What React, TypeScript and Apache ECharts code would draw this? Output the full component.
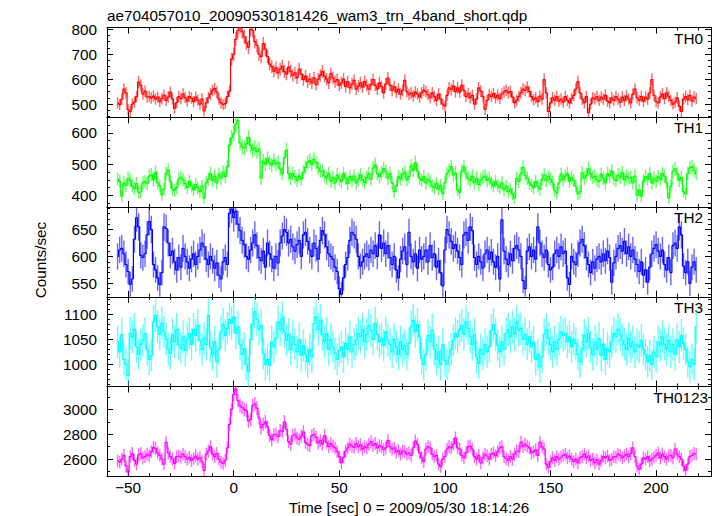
import React, { useEffect, useRef } from 'react';
import * as echarts from 'echarts';

// ---- data (1-s bins, bin centres start at T_START) ----
const T_START = -55;
const BIN_SEC = 1;

const TH0 = [
  505, 498, 520, 560, 545, 478, 470, 500, 508, 530,
  588, 575, 540, 552, 528, 530, 524, 532, 520, 528,
  510, 522, 535, 515, 528, 548, 520, 482, 506, 530,
  522, 540, 526, 512, 530, 524, 510, 528, 515, 500,
  520, 472, 505, 525, 540, 555, 562, 548, 520, 505,
  498, 502, 530, 552, 680, 700, 760, 795, 810, 790,
  770, 745, 728, 800, 795, 750, 735, 700, 690, 742,
  720, 690, 660, 650, 632, 645, 625, 640, 652, 630,
  620, 648, 632, 615, 625, 605, 640, 620, 598, 612,
  590, 600, 585, 605, 578, 600, 615, 630, 612, 600,
  585, 622, 605, 590, 598, 575, 585, 600, 570, 590,
  565, 580, 595, 560, 572, 585, 568, 590, 575, 560,
  578, 598, 575, 560, 585, 570, 545, 580, 604, 575,
  555, 570, 548, 560, 540, 555, 595, 550, 538, 545,
  532, 548, 540, 528, 545, 556, 550, 538, 525, 545,
  530, 515, 540, 520, 500, 492, 535, 565, 558, 572,
  550, 565, 548, 575, 555, 530, 542, 525, 535, 500,
  520, 565, 552, 530, 478, 515, 538, 530, 542, 525,
  536, 522, 540, 548, 555, 545, 550, 528, 505, 515,
  530, 545, 560, 555, 568, 550, 530, 518, 525, 510,
  532, 520, 598, 545, 470, 505, 525, 515, 530, 512,
  520, 508, 530, 515, 505, 522, 535, 560, 590, 545,
  520, 505, 530, 465, 500, 525, 520, 530, 515, 528,
  520, 535, 512, 505, 525, 515, 530, 520, 508, 528,
  515, 532, 520, 505, 540, 560, 525, 515, 530, 512,
  528, 520, 545, 598, 535, 510, 505, 528, 540, 522,
  545, 530, 515, 500, 508, 525, 492, 470, 520, 530,
  518, 535, 512, 528, 522,
];

const TH1 = [
  452, 445, 398, 440, 432, 455, 448, 430, 422, 438,
  410, 412, 440, 445, 438, 462, 466, 450, 475, 440,
  430, 402, 420, 470, 482, 445, 420, 415, 425, 452,
  458, 450, 438, 425, 445, 430, 418, 435, 425, 412,
  430, 392, 440, 452, 470, 448, 462, 440, 468, 455,
  475, 460, 492, 560, 585, 598, 628, 640, 568, 555,
  552, 565, 585, 560, 545, 552, 540, 548, 455, 510,
  500, 518, 505, 498, 512, 500, 505, 485, 470, 520,
  545, 470, 455, 470, 460, 448, 462, 452, 475, 490,
  505, 512, 500, 515, 505, 488, 478, 480, 462, 455,
  470, 445, 458, 440, 465, 452, 445, 470, 455, 438,
  460, 448, 462, 440, 452, 465, 450, 442, 458, 470,
  452, 488, 498, 470, 460, 472, 486, 478, 455, 470,
  440, 412, 430, 460, 452, 468, 475, 450, 460, 495,
  480, 505, 478, 455, 448, 460, 440, 452, 445, 430,
  425, 438, 420, 432, 405, 440, 470, 480, 492, 465,
  472, 418, 410, 478, 492, 470, 455, 448, 462, 440,
  455, 435, 450, 458, 462, 448, 455, 440, 430, 445,
  432, 425, 440, 418, 430, 412, 420, 405, 392, 455,
  445, 470, 490, 465, 455, 440, 432, 425, 445, 430,
  420, 452, 465, 448, 460, 452, 442, 415, 408, 440,
  468, 450, 462, 470, 445, 458, 448, 430, 405, 412,
  472, 455, 465, 485, 470, 458, 462, 450, 445, 468,
  455, 440, 470, 462, 478, 455, 448, 465, 458, 472,
  450, 462, 455, 458, 440, 462, 400, 418, 398, 445,
  460, 452, 470, 440, 455, 445, 460, 452, 470, 462,
  440, 392, 430, 478, 485, 470, 448, 458, 412, 405,
  470, 488, 492, 480, 470,
];

const TH2 = [
  600, 612, 615, 605, 585, 572, 548, 558, 632, 672,
  655, 602, 598, 605, 640, 665, 650, 585, 575, 560,
  548, 570, 655, 652, 625, 602, 610, 590, 575, 598,
  580, 615, 600, 590, 578, 595, 605, 585, 600, 612,
  625, 618, 595, 585, 600, 592, 578, 588, 565, 558,
  590, 598, 585, 680, 688, 672, 684, 660, 648, 630,
  622, 600, 595, 612, 625, 640, 620, 598, 592, 610,
  580, 625, 605, 595, 578, 600, 588, 625, 638, 650,
  645, 625, 632, 618, 610, 622, 630, 600, 640, 645,
  628, 612, 600, 625, 615, 595, 630, 648, 640, 618,
  605, 600, 595, 580, 572, 540, 530, 560, 585, 598,
  630, 645, 640, 632, 600, 582, 590, 600, 605, 598,
  612, 605, 620, 600, 640, 615, 625, 605, 620, 598,
  585, 600, 575, 560, 595, 610, 618, 585, 645, 600,
  590, 605, 578, 612, 595, 600, 612, 590, 620, 598,
  605, 580, 592, 570, 545, 612, 650, 640, 628, 615,
  622, 610, 598, 585, 640, 645, 630, 655, 648, 598,
  585, 600, 590, 578, 605, 612, 595, 608, 590, 580,
  600, 558, 668, 610, 595, 585, 605, 592, 615, 620,
  612, 600, 555, 540, 610, 618, 600, 612, 595, 655,
  625, 605, 598, 612, 585, 575, 580, 605, 612, 600,
  618, 605, 610, 560, 548, 600, 590, 585, 605, 625,
  632, 620, 598, 585, 570, 590, 578, 595, 600, 590,
  605, 592, 610, 598, 552, 588, 600, 615, 620, 610,
  628, 605, 618, 600, 612, 595, 585, 572, 590, 565,
  575, 552, 580, 605, 615, 622, 610, 600, 612, 585,
  575, 598, 570, 620, 625, 615, 655, 640, 582, 570,
  590, 550, 580, 590, 575,
];

const TH3 = [
  1045, 1025, 1060, 1010, 1000, 978, 1062, 1055, 1070, 1035,
  1020, 1040, 1048, 1062, 1030, 1010, 1018, 1085, 1098, 1075,
  1060, 1082, 1065, 1050, 1030, 1022, 1060, 1045, 1070, 1040,
  1032, 1055, 1028, 1050, 1062, 1040, 1070, 1058, 1078, 1048,
  1030, 1052, 1040, 1098, 1035, 1020, 1045, 1005, 1030, 1065,
  1080, 1058, 1072, 1090, 1082, 1095, 1062, 1075, 1040, 1020,
  1032, 1000, 985, 1050, 1080, 1105, 1090, 1070, 1078, 1022,
  1000, 1010, 998, 1045, 1035, 1052, 1085, 1070, 1092, 1065,
  1048, 1060, 1030, 1055, 1040, 1025, 1050, 1018, 1038, 1020,
  1005, 1030, 1015, 1082, 1095, 1070, 1088, 1060, 1045, 1062,
  1030, 1050, 1035, 1022, 1010, 1028, 1035, 1015, 1042, 1030,
  1055, 1025, 1040, 1048, 1062, 1055, 1070, 1045, 1060, 1078,
  1068, 1050, 1082, 1060, 1045, 1052, 1038, 1065, 1048, 1040,
  1025, 1050, 1035, 1020, 1045, 1030, 1038, 1020, 1042, 1075,
  1088, 1065, 1080, 1055, 1012, 1000, 1020, 1058, 1045, 1068,
  1030, 1010, 1025, 1000, 1040, 1008, 1000, 1015, 1030, 1048,
  1062, 1055, 1070, 1078, 1060, 1085, 1072, 1055, 1040, 1060,
  1015, 1002, 1030, 1020, 1040, 1025, 1035, 1068, 1080, 1060,
  1038, 1025, 1045, 1030, 1062, 1070, 1055, 1075, 1060, 1085,
  1068, 1072, 1050, 1060, 1040, 1055, 1035, 1045, 1010, 1020,
  995, 1015, 1060, 1070, 1052, 1040, 1025, 1045, 1030, 1050,
  1065, 1058, 1062, 1045, 1055, 1035, 1050, 1042, 1020, 1005,
  1030, 1058, 1045, 1062, 1035, 1020, 1045, 1030, 1052, 1018,
  1040, 1010, 1032, 1025, 1045, 1062, 1055, 1070, 1060, 1048,
  1040, 1030, 1052, 1035, 1045, 1025, 1040, 1035, 1048, 1030,
  1020, 1005, 1018, 1000, 1025, 1015, 1045, 1038, 1055, 1040,
  1030, 1048, 1025, 1040, 1020, 1050, 1035, 1058, 1042, 1030,
  1005, 995, 1010, 1000, 1075,
];

const TH0123 = [
  2585, 2575, 2600, 2630, 2545, 2495, 2620, 2645, 2590, 2560,
  2635, 2645, 2610, 2620, 2640, 2625, 2660, 2695, 2685, 2650,
  2630, 2600, 2560, 2735, 2650, 2620, 2600, 2565, 2620, 2625,
  2615, 2640, 2620, 2600, 2615, 2590, 2605, 2625, 2600, 2615,
  2580, 2510, 2640, 2665, 2700, 2640, 2620, 2645, 2600, 2575,
  2565, 2590, 2690, 2880, 3000, 3120, 3165, 3070, 3030, 3015,
  3000, 2990, 2905, 2920, 3030, 3045, 3010, 2930, 2850, 2880,
  2900, 2860, 2790, 2755, 2795, 2800, 2780, 2830, 2820, 2900,
  2840, 2740, 2720, 2790, 2800, 2770, 2760, 2785, 2820, 2735,
  2720, 2710, 2790, 2800, 2775, 2730, 2750, 2720, 2790, 2735,
  2700, 2725, 2705, 2690, 2660, 2620, 2570, 2615, 2665, 2690,
  2720, 2705, 2695, 2725, 2700, 2715, 2680, 2700, 2690, 2720,
  2740, 2710, 2725, 2690, 2710, 2700, 2675, 2690, 2750, 2700,
  2680, 2690, 2655, 2670, 2640, 2665, 2660, 2640, 2650, 2630,
  2690, 2745, 2720, 2650, 2610, 2580, 2680, 2700, 2690, 2640,
  2620, 2630, 2560, 2540, 2600, 2620, 2680, 2700, 2690, 2720,
  2770, 2690, 2680, 2630, 2610, 2650, 2700, 2705, 2680, 2620,
  2600, 2630, 2570, 2610, 2640, 2625, 2600, 2640, 2650, 2625,
  2660, 2690, 2700, 2620, 2605, 2590, 2620, 2600, 2640, 2665,
  2660, 2735, 2700, 2720, 2705, 2690, 2650, 2660, 2675, 2630,
  2735, 2700, 2680, 2560, 2535, 2580, 2610, 2590, 2620, 2600,
  2615, 2630, 2640, 2610, 2625, 2600, 2580, 2600, 2570, 2610,
  2620, 2640, 2610, 2625, 2590, 2600, 2570, 2595, 2560, 2585,
  2620, 2610, 2625, 2590, 2600, 2620, 2615, 2640, 2630, 2610,
  2625, 2640, 2620, 2645, 2690, 2620, 2545, 2520, 2560, 2610,
  2600, 2620, 2585, 2600, 2615, 2630, 2650, 2610, 2640, 2620,
  2600, 2625, 2630, 2610, 2680, 2640, 2620, 2600, 2545, 2510,
  2560, 2620, 2630, 2645, 2640,
];

const X_TICKS = [-50, 0, 50, 100, 150, 200];
const TH0_TICKS = [500, 600, 700, 800];
const TH1_TICKS = [400, 500, 600];
const TH2_TICKS = [550, 600, 650];
const TH3_TICKS = [1000, 1050, 1100];
const TH0123_TICKS = [2600, 2800, 3000];

const TITLE = 'ae704057010_20090530181426_wam3_trn_4band_short.qdp';
const X_TITLE = 'Time [sec] 0 = 2009/05/30 18:14:26';
const Y_TITLE = 'Counts/sec';

// ---- layout / style ----
const FONT = '"Liberation Sans", Arial, Helvetica, sans-serif';
const FONT_SIZE = 15.3;
const X_MIN = -60;
const X_MAX = 226;
const GRID_LEFT = 107;
const GRID_WIDTH = 604;
const GRID_TOP = 27.5;
const GRID_H = 89.75;

function steps(from: number, to: number, step: number): number[] {
  const out: number[] = [];
  for (let v = from; v <= to + 1e-9; v += step) out.push(v);
  return out;
}

const X_MINOR = steps(-60, 220, 10);

const PANELS = [
  { label: 'TH0', values: TH0, color: '#ff0000', min: 447, max: 807, major: TH0_TICKS, minor: steps(450, 800, 25), labelX: 703 },
  { label: 'TH1', values: TH1, color: '#00ff00', min: 363, max: 650, major: TH1_TICKS, minor: steps(375, 650, 25), labelX: 703 },
  { label: 'TH2', values: TH2, color: '#0000ff', min: 525, max: 692, major: TH2_TICKS, minor: steps(530, 690, 10), labelX: 703 },
  { label: 'TH3', values: TH3, color: '#00ffff', min: 956, max: 1135, major: TH3_TICKS, minor: steps(960, 1130, 10), labelX: 703 },
  { label: 'TH0123', values: TH0123, color: '#ff00ff', min: 2462, max: 3184, major: TH0123_TICKS, minor: steps(2500, 3100, 100), labelX: 708 },
];

const fmtX = (v: number) => (v < 0 ? '\u2212' + Math.abs(v) : String(v));
const fmtY = (v: number) => String(v);

const textStyle = (text: string, align: string) => ({
  text, fill: '#000', fontSize: FONT_SIZE, fontFamily: FONT, align, verticalAlign: 'middle',
});

function buildOption() {
  const grid: any[] = [];
  const xAxis: any[] = [];
  const yAxis: any[] = [];
  const series: any[] = [];
  const graphic: any[] = [];
  const lineStyle = { color: '#000', width: 1 };

  PANELS.forEach((p, i) => {
    const top = GRID_TOP + GRID_H * i;
    grid.push({ left: GRID_LEFT, width: GRID_WIDTH, top, height: GRID_H, containLabel: false });

    const xBase = (position: string, ticks: number[], len: number, line: boolean, labels: boolean) => ({
      type: 'value', gridIndex: i, min: X_MIN, max: X_MAX, position,
      axisLine: { show: line, onZero: false, lineStyle },
      axisTick: { show: true, inside: true, length: len, customValues: ticks, lineStyle },
      axisLabel: {
        show: labels, customValues: X_TICKS, formatter: fmtX, color: '#000',
        fontSize: FONT_SIZE, fontFamily: FONT, margin: 4,
      },
      splitLine: { show: false },
    });
    xAxis.push(xBase('bottom', X_TICKS, 6, true, i === PANELS.length - 1));
    xAxis.push(xBase('bottom', X_MINOR, 3, false, false));
    xAxis.push(xBase('top', X_TICKS, 6, true, false));
    xAxis.push(xBase('top', X_MINOR, 3, false, false));

    const yBase = (position: string, ticks: number[], len: number, line: boolean, labels: boolean) => ({
      type: 'value', gridIndex: i, min: p.min, max: p.max, position,
      axisLine: { show: line, onZero: false, lineStyle },
      axisTick: { show: true, inside: true, length: len, customValues: ticks, lineStyle },
      axisLabel: {
        show: labels, customValues: p.major, formatter: fmtY, color: '#000',
        fontSize: FONT_SIZE, fontFamily: FONT, margin: 10,
      },
      splitLine: { show: false },
    });
    yAxis.push(yBase('left', p.major, 6, true, true));
    yAxis.push(yBase('left', p.minor, 3, false, false));
    yAxis.push(yBase('right', p.major, 6, true, false));
    yAxis.push(yBase('right', p.minor, 3, false, false));

    const pts = p.values.map((v, k) => [T_START + k * BIN_SEC, v, Math.sqrt(v / BIN_SEC)]);

    series.push({
      type: 'custom', xAxisIndex: i * 4, yAxisIndex: i * 4, clip: true, silent: true, z: 2,
      data: pts, encode: { x: 0, y: 1 },
      renderItem: (_params: any, api: any) => {
        const x = api.value(0);
        const y = api.value(1);
        const e = api.value(2);
        const a = api.coord([x, y - e]);
        const b = api.coord([x, y + e]);
        return {
          type: 'line',
          shape: { x1: a[0], y1: a[1], x2: b[0], y2: b[1] },
          style: { stroke: p.color, lineWidth: 1.4, opacity: 0.6 },
        };
      },
    });
    series.push({
      type: 'line', xAxisIndex: i * 4, yAxisIndex: i * 4, clip: true, silent: true, z: 3,
      data: pts.map((d) => [d[0], d[1]]), step: 'middle', symbol: 'none', showSymbol: false,
      lineStyle: { color: p.color, width: 1.2 }, itemStyle: { color: p.color },
    });

    graphic.push({
      type: 'text', x: p.labelX, y: top + 10.5, silent: true,
      style: textStyle(p.label, 'right'),
    });
  });

  graphic.push({ type: 'text', x: GRID_LEFT, y: 15, silent: true, style: textStyle(TITLE, 'left') });
  graphic.push({
    type: 'text', x: GRID_LEFT + GRID_WIDTH / 2, y: 507, silent: true, style: textStyle(X_TITLE, 'center'),
  });
  graphic.push({
    type: 'text', x: 40, y: 260, rotation: Math.PI / 2, silent: true, style: textStyle(Y_TITLE, 'center'),
  });

  return {
    animation: false,
    backgroundColor: '#fff',
    grid, xAxis, yAxis, series, graphic,
  };
}

export default function App() {
  const ref = useRef<HTMLDivElement>(null);
  useEffect(() => {
    if (!ref.current) return;
    const chart = echarts.init(ref.current, null, { renderer: 'svg' });
    chart.setOption(buildOption() as any);
    return () => chart.dispose();
  }, []);
  return <div ref={ref} style={{ position: 'absolute', left: 0, top: 0, width: 717, height: 516 }} />;
}
